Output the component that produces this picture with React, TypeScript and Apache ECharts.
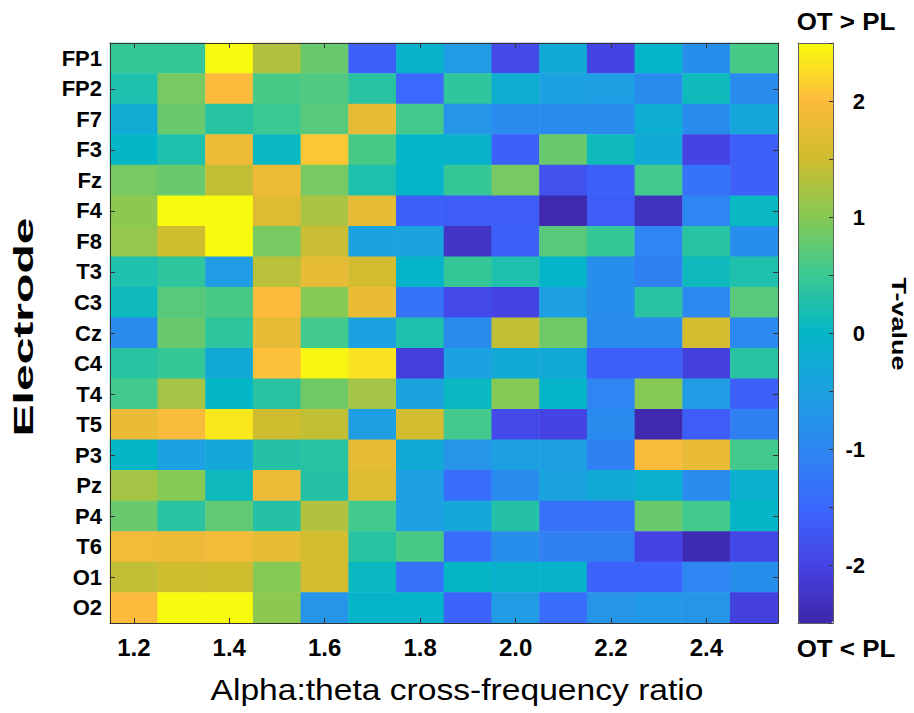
import React, { useEffect, useRef } from 'react';
import * as echarts from 'echarts';

// Alpha:theta cross-frequency ratio (column centres)
const ratios = ['1.2', '1.3', '1.4', '1.5', '1.6', '1.7', '1.8', '1.9', '2.0', '2.1', '2.2', '2.3', '2.4', '2.5'];

// Electrodes, top to bottom
const electrodes = ['FP1', 'FP2', 'F7', 'F3', 'Fz', 'F4', 'F8', 'T3', 'C3', 'Cz', 'C4', 'T4', 'T5', 'P3', 'Pz', 'P4', 'T6', 'O1', 'O2'];

// T-values (OT vs PL) per electrode, one value per ratio
const tFP1 = [0.45, 0.45, 2.5, 1.3, 0.8, -1.6, -0.1, -0.6, -1.9, -0.3, -2.0, -0.05, -0.85, 0.6];
const tFP2 = [0.25, 0.9, 2.0, 0.6, 0.65, 0.35, -1.5, 0.4, -0.2, -0.5, -0.55, -0.9, 0.1, -0.9];
const tF7 = [-0.25, 0.8, 0.35, 0.5, 0.7, 1.75, 0.55, -0.75, -0.9, -0.9, -0.9, -0.2, -0.9, -0.35];
const tF3 = [0.0, 0.25, 1.85, 0.05, 2.1, 0.6, -0.05, -0.1, -1.6, 0.8, 0.1, -0.3, -2.0, -1.6];
const tFz = [0.9, 0.8, 1.4, 1.85, 0.9, 0.25, -0.05, 0.45, 0.9, -1.8, -1.6, 0.55, -1.3, -1.6];
const tF4 = [1.05, 2.5, 2.5, 1.65, 1.25, 1.75, -1.6, -1.65, -1.65, -2.45, -1.65, -2.3, -1.0, 0.05];
const tF8 = [1.1, 1.5, 2.5, 0.9, 1.45, -0.45, -0.45, -2.25, -1.6, 0.7, 0.45, -1.0, 0.35, -0.85];
const tT3 = [0.25, 0.4, -0.6, 1.35, 1.75, 1.55, -0.05, 0.45, 0.25, -0.05, -0.85, -1.1, 0.1, 0.25];
const tC3 = [0.1, 0.7, 0.6, 2.0, 1.0, 1.8, -1.3, -1.9, -2.0, -0.55, -0.85, 0.35, -0.95, 0.7];
const tCz = [-0.9, 0.8, 0.4, 1.75, 0.55, -0.5, 0.25, -0.9, 1.4, 0.85, -0.9, -0.9, 1.55, -0.95];
const tC4 = [0.35, 0.45, -0.3, 2.05, 2.45, 2.3, -2.05, -0.5, -0.3, -0.3, -1.6, -1.6, -2.05, 0.35];
const tT4 = [0.55, 1.2, 0.0, 0.35, 0.85, 1.2, -0.45, 0.05, 1.0, -0.05, -1.0, 1.0, -0.6, -1.6];
const tT5 = [1.8, 1.95, 2.35, 1.5, 1.4, -0.55, 1.55, 0.55, -1.9, -2.0, -0.9, -2.45, -1.65, -1.1];
const tP3 = [0.0, -0.5, -0.35, 0.3, 0.35, 1.75, -0.3, -0.75, -0.55, -0.55, -1.1, 1.95, 1.8, 0.55];
const tPz = [1.2, 1.0, 0.1, 1.85, 0.3, 1.65, -0.55, -1.4, -0.9, -0.45, -0.3, -0.15, -0.9, -0.15];
const tP4 = [0.8, 0.35, 0.75, 0.3, 1.3, 0.55, -0.55, -0.35, 0.3, -1.35, -1.35, 0.8, 0.55, 0.0];
const tT6 = [1.9, 1.85, 1.9, 1.75, 1.55, 0.35, 0.6, -1.4, -0.85, -1.1, -1.1, -2.0, -2.4, -1.95];
const tO1 = [1.4, 1.5, 1.5, 1.0, 1.55, 0.05, -1.35, 0.0, -0.1, -0.1, -1.55, -1.55, -1.0, -0.85];
const tO2 = [2.0, 2.5, 2.5, 1.05, -0.75, -0.05, -0.05, -1.55, -0.6, -1.4, -0.75, -0.65, -0.75, -2.05];

const electrodeRows = [tFP1, tFP2, tF7, tF3, tFz, tF4, tF8, tT3, tC3, tCz, tC4, tT4, tT5, tP3, tPz, tP4, tT6, tO1, tO2];

// Colour bar range
const tMin = -2.5;
const tMax = 2.5;

// parula-like colormap
const parula = ['#3E26A8', '#4543E4', '#3B68FD', '#2D86F1', '#1CA1E1', '#04B6C6', '#3AC993', '#86C954', '#CFBC2F', '#FCBB3D', '#F9FB0E'];

const FONT = '"Liberation Sans", Arial, sans-serif';
const INK = '#000000';

export default function App() {
  const ref = useRef<HTMLDivElement>(null);

  useEffect(() => {
    if (!ref.current) return;
    const chart = echarts.init(ref.current, null, { renderer: 'svg' });

    const data: number[][] = [];
    electrodeRows.forEach((row, yi) => {
      row.forEach((v, xi) => data.push([xi, yi, v]));
    });

    const lineStyle = { color: '#333333', width: 1 };
    const cbLine = { color: '#606060', width: 1 };

    const option: any = {
      animation: false,
      backgroundColor: '#ffffff',
      grid: [
        { left: 110, top: 43, width: 668, height: 580, containLabel: false },
        { left: 798, top: 43, width: 35, height: 580, containLabel: false },
      ],
      xAxis: [
        {
          type: 'category',
          gridIndex: 0,
          data: ratios,
          position: 'bottom',
          z: 10,
          axisLine: { show: true, onZero: false, lineStyle },
          axisTick: { show: true, inside: true, alignWithLabel: true, length: 5, interval: (i: number) => i % 2 === 0, lineStyle },
          axisLabel: {
            show: true,
            interval: (i: number) => i % 2 === 0,
            margin: 12,
            color: INK,
            fontSize: 24,
            fontWeight: 'bold',
            fontFamily: FONT,
          },
          splitLine: { show: false },
        },
        {
          type: 'category',
          gridIndex: 0,
          data: ratios,
          position: 'top',
          z: 10,
          axisLine: { show: true, onZero: false, lineStyle },
          axisTick: { show: true, inside: true, alignWithLabel: true, length: 5, interval: (i: number) => i % 2 === 0, lineStyle },
          axisLabel: { show: false },
          splitLine: { show: false },
        },
        {
          type: 'value',
          gridIndex: 1,
          min: 0,
          max: 1,
          position: 'bottom',
          z: 10,
          axisLine: { show: true, onZero: false, lineStyle: cbLine },
          axisTick: { show: false },
          axisLabel: { show: false },
          splitLine: { show: false },
        },
        {
          type: 'value',
          gridIndex: 1,
          min: 0,
          max: 1,
          position: 'top',
          z: 10,
          axisLine: { show: true, onZero: false, lineStyle: cbLine },
          axisTick: { show: false },
          axisLabel: { show: false },
          splitLine: { show: false },
        },
      ],
      yAxis: [
        {
          type: 'category',
          gridIndex: 0,
          data: electrodes,
          inverse: true,
          position: 'left',
          z: 10,
          axisLine: { show: true, onZero: false, lineStyle },
          axisTick: { show: true, inside: true, alignWithLabel: true, length: 5, interval: (i: number) => i % 2 === 1, lineStyle },
          axisLabel: {
            show: true,
            interval: 0,
            margin: 8,
            color: INK,
            fontSize: 22,
            fontWeight: 'bold',
            fontFamily: FONT,
          },
          splitLine: { show: false },
        },
        {
          type: 'category',
          gridIndex: 0,
          data: electrodes,
          inverse: true,
          position: 'right',
          z: 10,
          axisLine: { show: true, onZero: false, lineStyle },
          axisTick: { show: true, inside: true, alignWithLabel: true, length: 5, interval: (i: number) => i % 2 === 1, lineStyle },
          axisLabel: { show: false },
          splitLine: { show: false },
        },
        {
          type: 'value',
          gridIndex: 1,
          min: tMin,
          max: tMax,
          interval: 0.5,
          position: 'right',
          z: 10,
          axisLine: { show: true, onZero: false, lineStyle: cbLine },
          axisTick: { show: true, inside: true, length: 4, lineStyle: { color: '#333333', width: 1 } },
          axisLabel: {
            show: true,
            align: 'right',
            margin: 32,
            color: INK,
            fontSize: 22,
            fontWeight: 'bold',
            fontFamily: FONT,
            formatter: (v: number) => (Math.abs(v - Math.round(v)) < 1e-6 ? String(Math.round(v)) : ''),
          },
          splitLine: { show: false },
        },
        {
          type: 'value',
          gridIndex: 1,
          min: tMin,
          max: tMax,
          position: 'left',
          z: 10,
          axisLine: { show: true, onZero: false, lineStyle: cbLine },
          axisTick: { show: false },
          axisLabel: { show: false },
          splitLine: { show: false },
        },
      ],
      visualMap: {
        type: 'continuous',
        min: tMin,
        max: tMax,
        seriesIndex: 0,
        show: true,
        calculable: false,
        hoverLink: false,
        orient: 'vertical',
        left: 798,
        top: 43,
        padding: 0,
        itemWidth: 35,
        itemHeight: 580,
        inRange: { color: parula },
      },
      series: [
        {
          type: 'heatmap',
          coordinateSystem: 'cartesian2d',
          xAxisIndex: 0,
          yAxisIndex: 0,
          data,
          progressive: 0,
          itemStyle: { borderWidth: 0 },
          emphasis: { disabled: true },
          label: { show: false },
        },
      ],
      graphic: [
        {
          type: 'text',
          x: 457,
          y: 690,
          scaleX: 1.12,
          style: {
            text: 'Alpha:theta cross-frequency ratio',
            fill: INK,
            fontSize: 30,
            fontWeight: 'normal',
            fontFamily: FONT,
            align: 'center',
            verticalAlign: 'middle',
            textAlign: 'center',
            textVerticalAlign: 'middle',
          },
        },
        {
          type: 'text',
          x: 24,
          y: 327,
          rotation: Math.PI / 2,
          scaleX: 1.78,
          style: {
            text: 'Electrode',
            fill: INK,
            fontSize: 27,
            fontWeight: 'bold',
            fontFamily: FONT,
            align: 'center',
            verticalAlign: 'middle',
            textAlign: 'center',
            textVerticalAlign: 'middle',
          },
        },
        {
          type: 'text',
          x: 899,
          y: 324,
          rotation: -Math.PI / 2,
          scaleX: 1.35,
          style: {
            text: 'T-value',
            fill: INK,
            fontSize: 20,
            fontWeight: 'bold',
            fontFamily: FONT,
            align: 'center',
            verticalAlign: 'middle',
            textAlign: 'center',
            textVerticalAlign: 'middle',
          },
        },
        {
          type: 'text',
          x: 846,
          y: 21,
          scaleX: 1.08,
          style: {
            text: 'OT > PL',
            fill: INK,
            fontSize: 24,
            fontWeight: 'bold',
            fontFamily: FONT,
            align: 'center',
            verticalAlign: 'middle',
            textAlign: 'center',
            textVerticalAlign: 'middle',
          },
        },
        {
          type: 'text',
          x: 846,
          y: 648,
          scaleX: 1.08,
          style: {
            text: 'OT < PL',
            fill: INK,
            fontSize: 24,
            fontWeight: 'bold',
            fontFamily: FONT,
            align: 'center',
            verticalAlign: 'middle',
            textAlign: 'center',
            textVerticalAlign: 'middle',
          },
        },
      ],
    };

    chart.setOption(option);
    return () => chart.dispose();
  }, []);

  return <div ref={ref} style={{ position: 'absolute', left: 0, top: 0, width: 914, height: 713 }} />;
}
